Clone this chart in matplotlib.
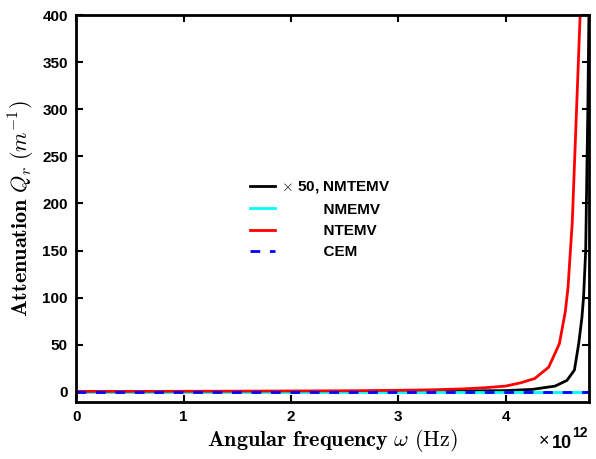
import matplotlib
matplotlib.use("Agg")
import matplotlib.pyplot as plt
import numpy as np

plt.rcParams["font.family"] = ["Liberation Sans", "DejaVu Sans"]
plt.rcParams["font.weight"] = "bold"
plt.rcParams["mathtext.fontset"] = "cm"

# angular frequency in units of 1e12 Hz
w_ntemv = [0.0, 0.5, 1.0, 1.5, 2.0, 2.5, 3.0, 3.3, 3.6, 3.8, 4.0, 4.14, 4.27,
           4.40, 4.50, 4.555, 4.58, 4.62, 4.66, 4.70, 4.72]
q_ntemv = [0.3, 0.35, 0.45, 0.6, 0.8, 1.0, 1.5, 2.0, 3.0, 4.2, 6.0, 9.5, 14.0,
           26.0, 51.0, 85.0, 110.0, 180.0, 300.0, 420.0, 500.0]

# NMTEMV values already scaled by 50
w_nmtemv = [0.0, 1.0, 2.0, 3.0, 3.5, 4.0, 4.25, 4.46, 4.57, 4.64, 4.68,
            4.71, 4.725, 4.745, 4.765, 4.78]
q_nmtemv = [0.05, 0.1, 0.2, 0.4, 0.7, 1.2, 2.5, 6.0, 12.0, 23.0, 51.0,
            79.0, 100.0, 150.0, 300.0, 450.0]

w_nmemv = [0.0, 4.78]
q_nmemv = [0.0, 0.0]

w_cem = [0.0, 4.78]
q_cem = [0.0, 0.0]

scale = 1e12
pad = " " * 10

fig = plt.figure(figsize=(5.96, 4.59), dpi=100)
ax = fig.add_axes([0.128, 0.124, 0.861, 0.843])

ax.plot(np.array(w_nmtemv) * scale, q_nmtemv, color="black", lw=2,
        label=r"$\times$ 50, NMTEMV")
ax.plot(np.array(w_nmemv) * scale, q_nmemv, color="cyan", lw=2,
        label=pad + "NMEMV")
ax.plot(np.array(w_ntemv) * scale, q_ntemv, color="red", lw=2,
        label=pad + "NTEMV")
ax.plot(np.array(w_cem) * scale, q_cem, color="blue", lw=2, ls=(0, (3.5, 3.5)),
        label=pad + "CEM")

ax.set_xlim(0, 4.78e12)
ax.set_ylim(-11, 400)
ax.set_xticks(np.arange(0, 5) * scale)
ax.set_xticklabels(["0", "1", "2", "3", "4"])
ax.set_yticks(np.arange(0, 401, 50))

ax.tick_params(direction="in", length=5, width=1.5, top=True, right=True,
               labelsize=11, pad=6)
for lab in ax.get_xticklabels() + ax.get_yticklabels():
    lab.set_fontweight("bold")
for sp in ax.spines.values():
    sp.set_linewidth(2)

ax.set_xlabel(r"$\mathbf{Angular\ frequency}\ \omega\ \mathrm{(Hz)}$",
              fontsize=16, labelpad=2)
ax.set_ylabel(r"$\mathbf{Attenuation}\ Q_r\ (m^{-1})$",
              fontsize=16, labelpad=4)

# x-axis exponent, placed by hand below the right end of the axis
fig.text(539 / 596, 1 - 442 / 459, "\u00d7", fontsize=13, fontweight="normal",
         ha="left", va="center")
fig.text(552 / 596, 1 - 448 / 459, "10", fontsize=13, fontweight="bold",
         ha="left", va="baseline")
fig.text(572 / 596, 1 - 437 / 459, "12", fontsize=10, fontweight="bold",
         ha="left", va="baseline")

leg = ax.legend(loc="upper left", bbox_to_anchor=(0.312, 0.611), frameon=False,
                fontsize=11, handlelength=1.65, handletextpad=0.4,
                labelspacing=0.48)
for t in leg.get_texts():
    t.set_fontweight("bold")

fig.savefig("out.png", dpi=100)
